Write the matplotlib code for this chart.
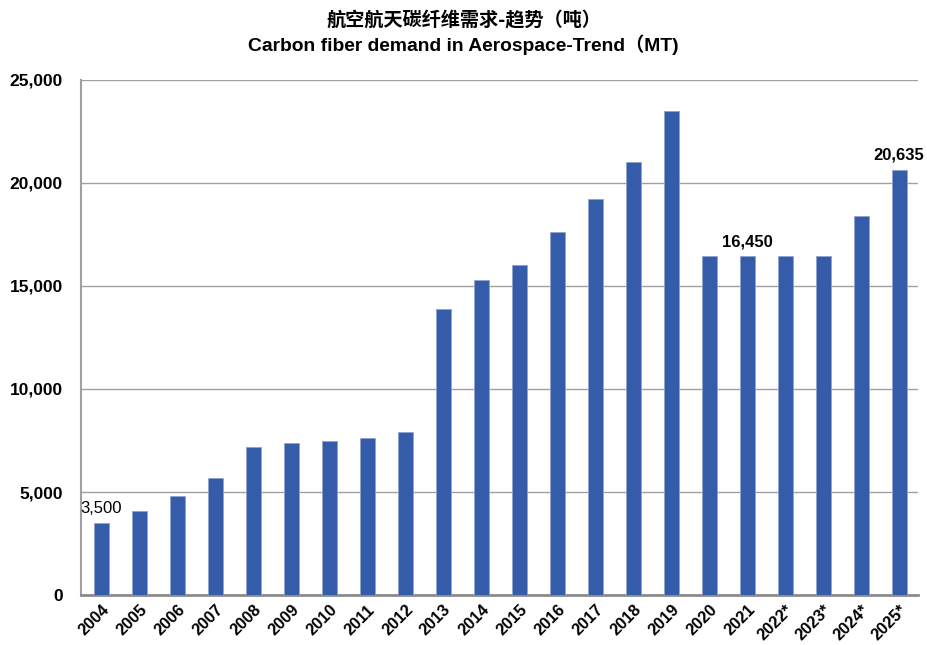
import matplotlib
matplotlib.use("Agg")
import matplotlib.pyplot as plt

years = ["2004", "2005", "2006", "2007", "2008", "2009", "2010", "2011", "2012",
         "2013", "2014", "2015", "2016", "2017", "2018", "2019", "2020", "2021",
         "2022*", "2023*", "2024*", "2025*"]
demand = [3500, 4100, 4800, 5700, 7200, 7400, 7500, 7600, 7900,
          13900, 15300, 16000, 17600, 19200, 21000, 23500, 16450, 16450,
          16450, 16450, 18400, 20635]
labelled = {0: "regular", 17: "bold", 21: "bold"}
yticks = [0, 5000, 10000, 15000, 20000, 25000]

fig = plt.figure(figsize=(9.27, 6.45), dpi=100)
ax = fig.add_axes([0.0874, 0.0775, 0.903, 0.7985])

x = list(range(len(years)))
ax.bar(x, demand, width=0.4, color="#355CA8", edgecolor="#8FA3D0", linewidth=0.6, zorder=3)

ax.set_xlim(-0.53, len(years) - 0.5)
ax.set_ylim(0, 25000)
ax.set_yticks(yticks)
ax.set_yticklabels([f"{v:,}" for v in yticks], fontsize=12.5, fontweight="bold",
                   family="Liberation Sans")
ax.set_xticks(x)
ax.set_xticklabels(years, rotation=45, ha="right", rotation_mode="anchor",
                   fontsize=11.8, fontweight="bold", family="Liberation Sans")
ax.tick_params(axis="both", length=0)
ax.tick_params(axis="y", pad=13)
ax.tick_params(axis="x", pad=5)

ax.grid(axis="y", color="#A0A0A0", linewidth=1.0, zorder=0)
for side in ["top", "right"]:
    ax.spines[side].set_visible(False)
ax.spines["left"].set_color("#A0A0A0")
ax.spines["left"].set_linewidth(1.5)
ax.spines["bottom"].set_color("#8C8C8C")
ax.spines["bottom"].set_linewidth(2)

for i, w in labelled.items():
    ax.annotate(f"{demand[i]:,}", (i, demand[i]), xytext=(0, 5), textcoords="offset points",
                ha="center", va="bottom", fontsize=12, fontweight=w,
                family="Liberation Sans")

fig.text(0.5, 0.967, "航空航天碳纤维需求-趋势（吨）", ha="center", va="center",
         fontsize=13.8, fontweight="bold", family=["Noto Sans CJK SC", "DejaVu Sans"])
fig.text(0.5, 0.93, "Carbon fiber demand in Aerospace-Trend（MT)", ha="center", va="center",
         fontsize=13.9, fontweight="bold", family=["Liberation Sans", "Noto Sans CJK SC"])

fig.savefig("out.png", dpi=100)
